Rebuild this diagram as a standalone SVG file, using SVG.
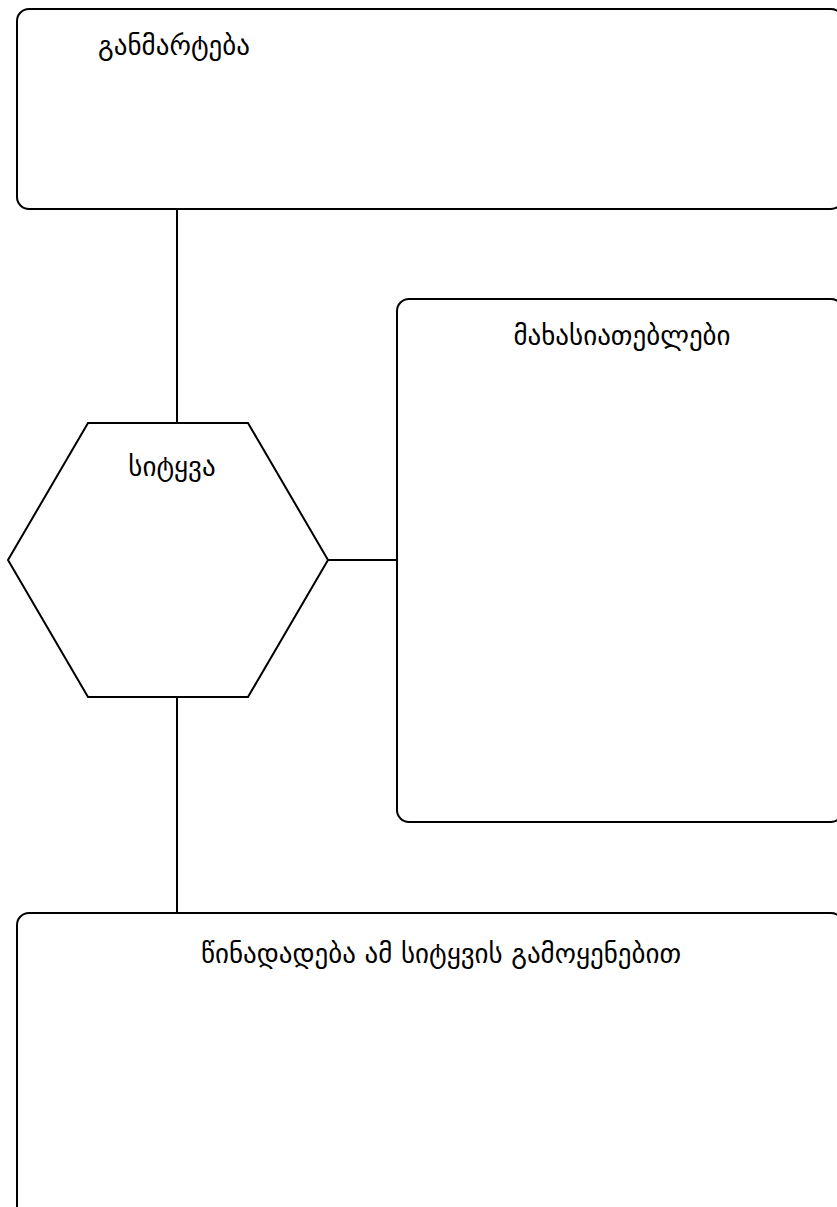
<svg xmlns="http://www.w3.org/2000/svg" width="837" height="1207" viewBox="0 0 837 1207">
<style>
.box{fill:#fff;stroke:#000;stroke-width:2}
.conn{fill:none;stroke:#000;stroke-width:2}
.lbl{font-family:"DejaVu Sans","Noto Sans",sans-serif;font-size:27px;fill:#000;text-anchor:middle}
</style>
<rect x="0" y="0" width="837" height="1207" fill="#fff"/>
<g id="connectors">
<line class="conn" x1="177" y1="209" x2="177" y2="423"/>
<line class="conn" x1="328" y1="560" x2="397" y2="560"/>
<line class="conn" x1="177" y1="697" x2="177" y2="913"/>
</g>
<g id="node-definition">
<rect class="box" x="17" y="9" width="826" height="200" rx="12" ry="12"/>
<text class="lbl" x="174" y="55">განმარტება</text>
</g>
<g id="node-word">
<polygon class="box" points="88,423 248,423 328,560 248,697 88,697 8,560"/>
<text class="lbl" x="172" y="476">სიტყვა</text>
</g>
<g id="node-characteristics">
<rect class="box" x="397" y="299" width="446" height="523" rx="12" ry="12"/>
<text class="lbl" x="622" y="345">მახასიათებლები</text>
</g>
<g id="node-sentence">
<rect class="box" x="17" y="913" width="826" height="310" rx="12" ry="12"/>
<text class="lbl" x="441" y="963">წინადადება ამ სიტყვის გამოყენებით</text>
</g>
</svg>
